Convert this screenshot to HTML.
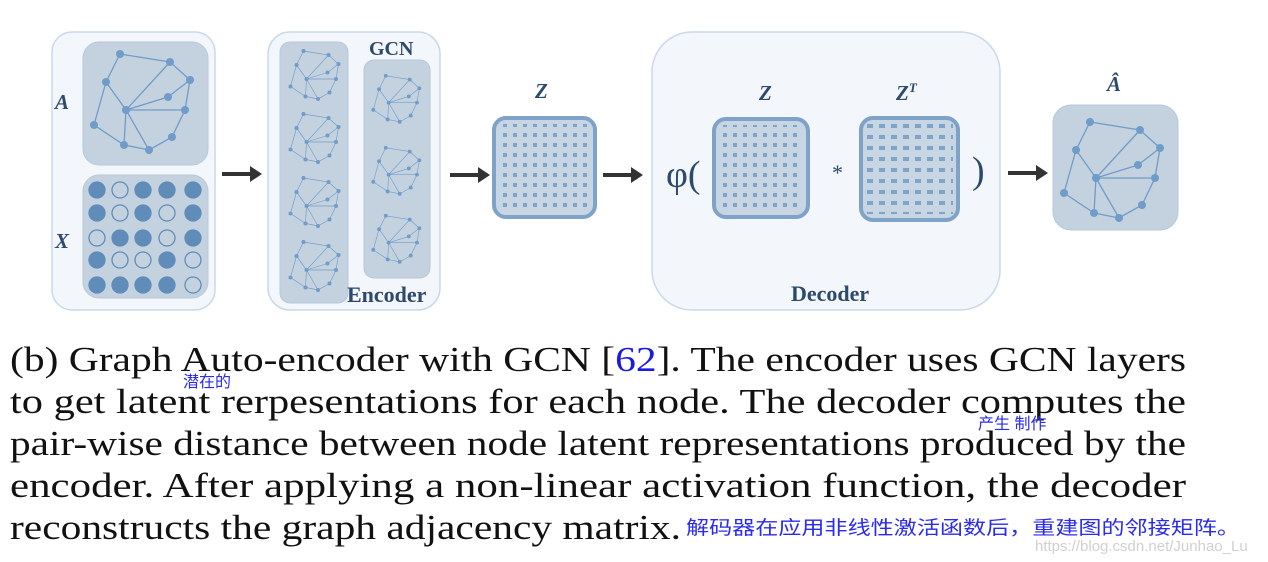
<!DOCTYPE html>
<html><head><meta charset="utf-8"><style>
html,body{margin:0;padding:0;background:#fff;}
svg{display:block;}
</style></head><body>
<svg width="1268" height="562" viewBox="0 0 1268 562" xmlns="http://www.w3.org/2000/svg">
<defs>
<g id="gr">
 <g stroke="#6f9cc8" stroke-width="1.3" fill="none">
  <polyline points="37,12 87,20 107,38 102,68 89,95 66,108 41,103 11,83 23,40 37,12"/>
  <line x1="23" y1="40" x2="43" y2="68"/><line x1="87" y1="20" x2="43" y2="68"/>
  <line x1="107" y1="38" x2="85" y2="55"/><line x1="85" y1="55" x2="43" y2="68"/>
  <line x1="43" y1="68" x2="102" y2="68"/><line x1="43" y1="68" x2="41" y2="103"/>
  <line x1="43" y1="68" x2="66" y2="108"/>
 </g>
 <g fill="#6f9cc8">
  <circle cx="37" cy="12" r="4"/><circle cx="87" cy="20" r="4"/><circle cx="23" cy="40" r="4"/>
  <circle cx="107" cy="38" r="4"/><circle cx="85" cy="55" r="4"/><circle cx="43" cy="68" r="4"/>
  <circle cx="102" cy="68" r="4"/><circle cx="11" cy="83" r="4"/><circle cx="41" cy="103" r="4"/>
  <circle cx="66" cy="108" r="4"/><circle cx="89" cy="95" r="4"/>
 </g>
</g>
<pattern id="dz" width="10" height="10" patternUnits="userSpaceOnUse"><rect x="3" y="3" width="4" height="4" fill="#6d98c2"/></pattern>
<pattern id="dt" width="12" height="11" patternUnits="userSpaceOnUse"><rect x="3" y="3" width="6" height="4" fill="#6d98c2"/></pattern>
<g id="arr"><line x1="0" y1="0" x2="30" y2="0" stroke="#333" stroke-width="4"/><polygon points="28,-8 40,0 28,8" fill="#333"/></g>
</defs>

<rect x="52" y="32" width="163" height="278" rx="20" fill="#f3f6fa" stroke="#c9d9ea" stroke-width="1.5"/>
<rect x="83" y="42" width="125" height="123" rx="16" fill="#c4d2e0" stroke="#b6c8da"/>
<use href="#gr" x="83" y="42"/>
<rect x="83" y="175" width="125" height="123" rx="16" fill="#c4d2e0" stroke="#b6c8da"/>
<g stroke="#5f8cb8" stroke-width="1.3">
 <g fill="#5f8cb8"><circle cx="97" cy="190" r="8"/><circle cx="143" cy="190" r="8"/><circle cx="167" cy="190" r="8"/><circle cx="193" cy="190" r="8"/>
 <circle cx="97" cy="213" r="8"/><circle cx="143" cy="213" r="8"/><circle cx="193" cy="213" r="8"/>
 <circle cx="120" cy="238" r="8"/><circle cx="143" cy="238" r="8"/><circle cx="193" cy="238" r="8"/>
 <circle cx="97" cy="260" r="8"/><circle cx="167" cy="260" r="8"/>
 <circle cx="97" cy="285" r="8"/><circle cx="120" cy="285" r="8"/><circle cx="143" cy="285" r="8"/><circle cx="167" cy="285" r="8"/></g>
 <g fill="none"><circle cx="120" cy="190" r="8"/><circle cx="120" cy="213" r="8"/><circle cx="167" cy="213" r="8"/>
 <circle cx="97" cy="238" r="8"/><circle cx="167" cy="238" r="8"/><circle cx="120" cy="260" r="8"/><circle cx="143" cy="260" r="8"/>
 <circle cx="193" cy="260" r="8"/><circle cx="193" cy="285" r="8"/></g>
</g>
<g font-family="Liberation Serif, serif" font-style="italic" font-weight="bold" fill="#2c4a6e" font-size="21">
 <text x="55" y="109">A</text><text x="55" y="248">X</text>
</g>
<use href="#arr" x="222" y="174"/>

<rect x="268" y="32" width="172" height="278" rx="22" fill="#f3f6fa" stroke="#c9d9ea" stroke-width="1.5"/>
<rect x="280" y="42" width="68" height="261" rx="10" fill="#c4d2e0" stroke="#b6c8da"/>
<rect x="364" y="60" width="66" height="218" rx="10" fill="#c4d2e0" stroke="#b6c8da"/>
<use href="#gr" transform="translate(285,45) scale(0.5)"/>
<use href="#gr" transform="translate(285,108) scale(0.5)"/>
<use href="#gr" transform="translate(285,172) scale(0.5)"/>
<use href="#gr" transform="translate(285,236) scale(0.5)"/>
<use href="#gr" transform="translate(368,70) scale(0.48)"/>
<use href="#gr" transform="translate(368,142) scale(0.48)"/>
<use href="#gr" transform="translate(368,210) scale(0.48)"/>
<g font-family="Liberation Serif, serif" font-weight="bold" fill="#2c4a6e">
 <text x="369" y="55" font-size="20">GCN</text>
 <text x="347" y="302" font-size="22">Encoder</text>
</g>
<use href="#arr" x="450" y="175"/>

<text x="535" y="98" font-family="Liberation Serif, serif" font-style="italic" font-weight="bold" fill="#2c4a6e" font-size="21">Z</text>
<rect x="494" y="118" width="101" height="99" rx="12" fill="#c8d6e4" stroke="#7fa3c8" stroke-width="4"/>
<rect x="500" y="124" width="89" height="87" fill="url(#dz)" opacity="0.8"/>
<use href="#arr" x="603" y="175"/>

<rect x="652" y="32" width="348" height="278" rx="40" fill="#f3f6fa" stroke="#c9d9ea" stroke-width="1.5"/>
<text x="666" y="187" font-family="Liberation Serif, serif" fill="#2c4a6e" font-size="38">φ(</text>
<text x="759" y="100" font-family="Liberation Serif, serif" font-style="italic" font-weight="bold" fill="#2c4a6e" font-size="21">Z</text>
<rect x="714" y="119" width="94" height="98" rx="12" fill="#c8d6e4" stroke="#7fa3c8" stroke-width="4"/>
<rect x="720" y="125" width="82" height="86" fill="url(#dz)" opacity="0.8"/>
<text x="832" y="180" font-family="Liberation Serif, serif" fill="#2c4a6e" font-size="22">*</text>
<text x="896" y="100" font-family="Liberation Serif, serif" font-style="italic" font-weight="bold" fill="#2c4a6e" font-size="21">Z<tspan dy="-8" font-size="13">T</tspan></text>
<rect x="861" y="118" width="97" height="102" rx="12" fill="#c8d6e4" stroke="#7fa3c8" stroke-width="4"/>
<rect x="867" y="124" width="86" height="90" fill="url(#dt)" opacity="0.8"/>
<text x="972" y="183" font-family="Liberation Serif, serif" fill="#2c4a6e" font-size="38">)</text>
<text x="791" y="301" font-family="Liberation Serif, serif" font-weight="bold" fill="#2c4a6e" font-size="22">Decoder</text>
<use href="#arr" x="1008" y="173"/>

<text x="1107" y="91" font-family="Liberation Serif, serif" font-style="italic" font-weight="bold" fill="#2c4a6e" font-size="21">Â</text>
<rect x="1053" y="105" width="125" height="125" rx="18" fill="#c4d2e0" stroke="#b6c8da"/>
<use href="#gr" x="1053" y="110"/>

<g font-family="Liberation Serif, serif" font-size="35" fill="#111">
 <text x="10" y="371" textLength="1176" lengthAdjust="spacingAndGlyphs">(b) Graph Auto-encoder with GCN [<tspan fill="#1a1ae0">62</tspan>]. The encoder uses GCN layers</text>
 <text x="10" y="413" textLength="1176" lengthAdjust="spacingAndGlyphs">to get latent rerpesentations for each node. The decoder computes the</text>
 <text x="10" y="455" textLength="1176" lengthAdjust="spacingAndGlyphs">pair-wise distance between node latent representations produced by the</text>
 <text x="10" y="497" textLength="1176" lengthAdjust="spacingAndGlyphs">encoder. After applying a non-linear activation function, the decoder</text>
 <text x="10" y="539" textLength="671" lengthAdjust="spacingAndGlyphs">reconstructs the graph adjacency matrix.</text>
</g>
<g font-family="Liberation Sans, Noto Sans CJK SC, sans-serif" fill="#2a2af0">
 <text x="183" y="387" font-size="16">潜在的</text>
 <text x="978" y="429" font-size="16">产生 制作</text>
 <text x="686" y="534" font-size="19" textLength="554" lengthAdjust="spacingAndGlyphs">解码器在应用非线性激活函数后，重建图的邻接矩阵。</text>
</g>
<text x="1035" y="551" font-family="Liberation Sans, sans-serif" font-size="15" fill="#d0d0d0">https://blog.csdn.net/Junhao_Lu</text>
</svg>
</body></html>
